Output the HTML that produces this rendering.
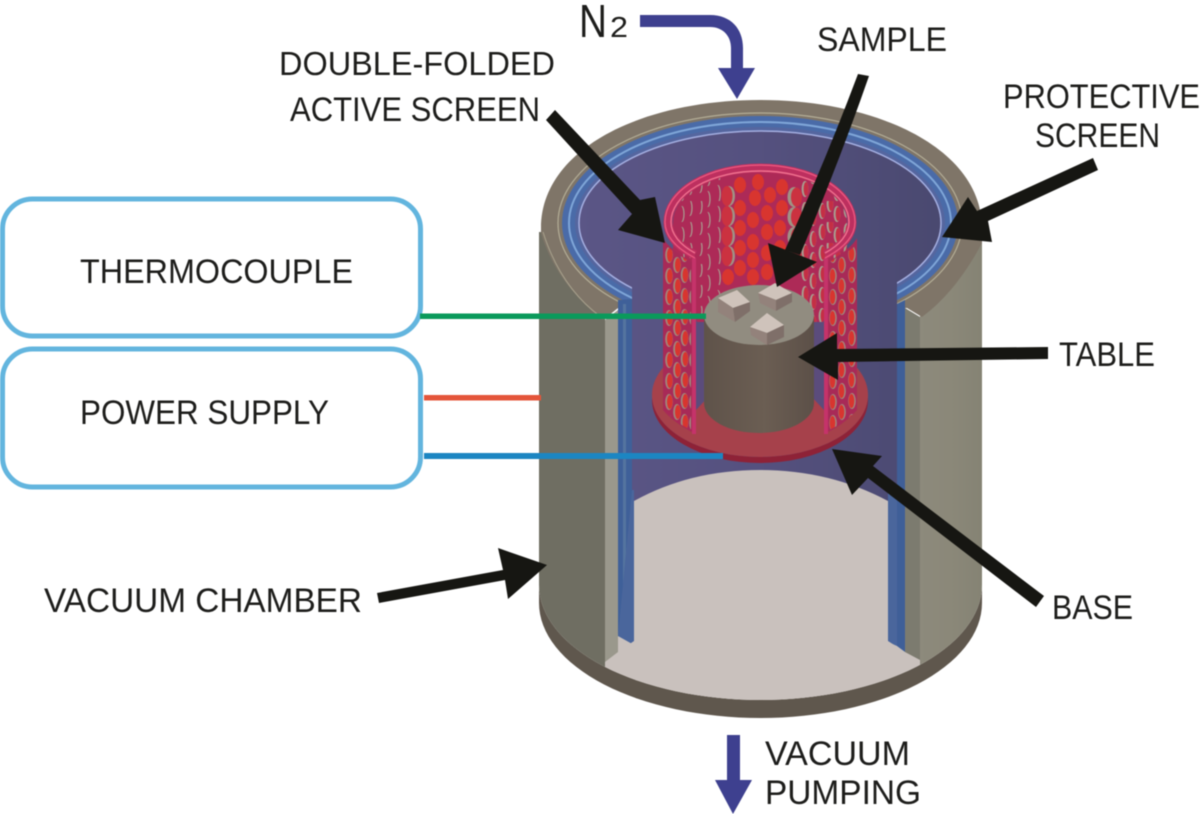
<!DOCTYPE html>
<html><head><meta charset="utf-8"><style>
html,body{margin:0;padding:0;background:#fff}
svg{display:block;filter:blur(.4px)}
text{font-family:"Liberation Sans",sans-serif;fill:#1d1d1b}
</style></head><body>
<svg width="1200" height="814" viewBox="0 0 1200 814" xmlns="http://www.w3.org/2000/svg">
<defs>
<linearGradient id="wr" x1="0" x2="1" y1="0" y2="0"><stop offset="0" stop-color="#8d8a7c"/><stop offset=".5" stop-color="#8b8879"/><stop offset="1" stop-color="#858374"/></linearGradient>
<linearGradient id="pu" gradientUnits="userSpaceOnUse" x1="580" x2="940" y1="0" y2="0"><stop offset="0" stop-color="#5b5686"/><stop offset=".5" stop-color="#55517f"/><stop offset="1" stop-color="#4a4970"/></linearGradient>
<linearGradient id="tb" x1="0" x2="1" y1="0" y2="0"><stop offset="0" stop-color="#5f534a"/><stop offset=".55" stop-color="#6b5e53"/><stop offset="1" stop-color="#5c5048"/></linearGradient>
<clipPath id="cb"><rect x="539" y="232" width="443" height="353"/><ellipse cx="760.500" cy="585" rx="221.500" ry="115"/></clipPath>
<pattern id="pl" width="24" height="21" patternUnits="userSpaceOnUse" x="665" y="246">
<g fill="#a0877c"><ellipse cx="4" cy="9" rx="3.800" ry="8"/><ellipse cx="12" cy="19" rx="3.800" ry="8"/><ellipse cx="12" cy="-2" rx="3.800" ry="8"/><ellipse cx="19.500" cy="8" rx="3.800" ry="8"/></g>
<g fill="#d8352f"><ellipse cx="4.800" cy="9" rx="2.800" ry="7"/><ellipse cx="12.800" cy="19" rx="2.800" ry="7"/><ellipse cx="12.800" cy="-2" rx="2.800" ry="7"/><ellipse cx="20.300" cy="8" rx="2.800" ry="7"/></g>
</pattern>
<pattern id="pr" width="30" height="21" patternUnits="userSpaceOnUse" x="829" y="246">
<g fill="#a0877c"><ellipse cx="4" cy="9" rx="3.800" ry="8"/><ellipse cx="13" cy="19" rx="3.800" ry="8"/><ellipse cx="13" cy="-2" rx="3.800" ry="8"/><ellipse cx="23" cy="8" rx="3.800" ry="8"/></g>
<g fill="#d8352f"><ellipse cx="3.500" cy="9" rx="2.800" ry="7"/><ellipse cx="12.500" cy="19" rx="2.800" ry="7"/><ellipse cx="12.500" cy="-2" rx="2.800" ry="7"/><ellipse cx="22.500" cy="8" rx="2.800" ry="7"/></g>
</pattern>
<pattern id="pi" width="48" height="21" patternUnits="userSpaceOnUse" x="676" y="180">
<g fill="#a89e90"><ellipse cx="6" cy="13" rx="2.600" ry="8"/><ellipse cx="14" cy="7" rx="2.600" ry="8"/><ellipse cx="24" cy="5" rx="2.600" ry="8"/><ellipse cx="32" cy="19" rx="2.600" ry="8"/><ellipse cx="32" cy="-2" rx="2.600" ry="8"/><ellipse cx="42" cy="14" rx="2.800" ry="9"/></g>
<g fill="#ad2a57"><ellipse cx="4.800" cy="13" rx="2.600" ry="8"/><ellipse cx="12.800" cy="7" rx="2.600" ry="8"/><ellipse cx="22.800" cy="5" rx="2.600" ry="8"/><ellipse cx="30.800" cy="19" rx="2.600" ry="8"/><ellipse cx="30.800" cy="-2" rx="2.600" ry="8"/><ellipse cx="40.800" cy="14" rx="2.800" ry="9"/></g>
</pattern>
<pattern id="pj" width="42" height="21" patternUnits="userSpaceOnUse" x="800" y="180">
<g fill="#a89e90"><ellipse cx="5" cy="9" rx="3.400" ry="8"/><ellipse cx="13" cy="17" rx="3.400" ry="8"/><ellipse cx="13" cy="-4" rx="3.400" ry="8"/><ellipse cx="22" cy="10" rx="3.400" ry="8"/><ellipse cx="30" cy="3" rx="3.400" ry="8"/><ellipse cx="37" cy="13" rx="3.400" ry="8"/></g>
<g fill="#c42f45"><ellipse cx="6" cy="9" rx="2.400" ry="7"/><ellipse cx="14" cy="17" rx="2.400" ry="7"/><ellipse cx="14" cy="-4" rx="2.400" ry="7"/><ellipse cx="23" cy="10" rx="2.400" ry="7"/><ellipse cx="31" cy="3" rx="2.400" ry="7"/><ellipse cx="38" cy="13" rx="2.400" ry="7"/></g>
</pattern>
<clipPath id="ci"><path d="M673 222A87 50 0 0 1 847 222L847 265L823 322H697L673 265Z"/></clipPath>
<g id="cL"><ellipse cx="0" cy="0" rx="6" ry="10" fill="#a09284"/><ellipse cx="-2" cy="0" rx="5.500" ry="10" fill="#cb3240"/></g>
<g id="cR"><ellipse cx="0" cy="0" rx="6.500" ry="10" fill="#a09284"/><ellipse cx="2.500" cy="0" rx="5.500" ry="9.500" fill="#cb3240"/></g>
</defs>

<!-- boxes -->
<rect x="2.500" y="199" width="418" height="137" rx="30" fill="#fff" stroke="#63b5de" stroke-width="5"/>
<rect x="2.500" y="349" width="418" height="138" rx="30" fill="#fff" stroke="#63b5de" stroke-width="5"/>

<!-- chamber body -->
<path d="M539 585A221.500 115 0 0 0 982 585L982 603A221.500 115 0 0 1 539 603Z" fill="#5f574d"/>
<g clip-path="url(#cb)">
<rect x="539" y="232" width="66" height="483" fill="#6f6e62"/>
<rect x="605" y="400" width="316" height="320" fill="#c9c1bd"/>
<rect x="920" y="232" width="62" height="483" fill="url(#wr)"/>
</g>
<!-- rim -->
<path d="M541 228C541 150 640 100 760 100C880 100 982 150 982 228L982 243C965 275 945 300 922 317L907 308H618L603 320C575 298 552 270 541 233Z" fill="#7f7568"/>
<path d="M543 232C555 270 575 298 601 317" fill="none" stroke="#a8a28d" stroke-width="1"/>
<ellipse cx="760" cy="223" rx="202" ry="110" fill="none" stroke="#b3ad96" stroke-width="1.200"/>
<ellipse cx="760" cy="223" rx="198" ry="107" fill="#4a6ba8"/>
<ellipse cx="760" cy="223" rx="191" ry="101" fill="none" stroke="#7fa6d8" stroke-width="2"/>
<ellipse cx="760" cy="223" rx="185" ry="96" fill="#55669f"/>
<ellipse cx="760" cy="223" rx="181" ry="92" fill="url(#pu)" stroke="#a4aee0" stroke-width="1.500"/>
<!-- back interior -->
<rect x="632" y="225" width="265" height="285" fill="url(#pu)"/>
<!-- wall faces -->
<polygon points="605,320 618,310 618,652 605,662" fill="#9a988c"/>
<polygon points="618,300 632,299 632,640 618,636" fill="#3f6099"/>
<rect x="623" y="304" width="3" height="330" fill="#54749f"/>
<polygon points="905,308 920,317 920,660 905,652" fill="#7c7b6f"/>
<polygon points="897,304 905,300 905,652 897,646" fill="#3f5f98"/>
<!-- floor arch -->
<path d="M632 490H634V645L618 636ZM888 490H897V646L888 642Z" fill="#4a669c"/>
<path d="M634 501Q690 470 760 470Q830 470 888 501V641L905 652H618L634 641Z" fill="#c9c1bd"/>

<!-- base -->
<path d="M652 395A108 62 0 0 0 868 395V400A108 63 0 0 1 652 400Z" fill="#8e2237"/>
<ellipse cx="760" cy="395" rx="108" ry="62" fill="#a6414b"/>
<path d="M696 300H824V410L810 395H710L696 410Z" fill="#5b4c7c"/>

<!-- inner wall -->
<g clip-path="url(#ci)">
<rect x="670" y="165" width="180" height="170" fill="#ad2a57"/>
<rect x="676" y="165" width="48" height="170" fill="url(#pi)"/>
<rect x="800" y="165" width="48" height="170" fill="url(#pj)"/>
<g fill="#d8352f">
<ellipse cx="740" cy="185" rx="6" ry="8"/><ellipse cx="758" cy="182" rx="6" ry="8"/><ellipse cx="782" cy="187" rx="6" ry="8"/>
<ellipse cx="755" cy="198" rx="6" ry="8"/><ellipse cx="770" cy="195" rx="6" ry="8"/><ellipse cx="782" cy="208" rx="6" ry="8"/>
<ellipse cx="740" cy="208" rx="6" ry="8"/><ellipse cx="753" cy="220" rx="6" ry="8"/><ellipse cx="767" cy="213" rx="6" ry="8"/>
<ellipse cx="740" cy="228" rx="6" ry="8"/><ellipse cx="753" cy="242" rx="6" ry="8"/><ellipse cx="767" cy="232" rx="6" ry="8"/>
<ellipse cx="780" cy="228" rx="6" ry="8"/><ellipse cx="740" cy="248" rx="6" ry="8"/><ellipse cx="753" cy="260" rx="6" ry="8"/>
<ellipse cx="767" cy="253" rx="6" ry="8"/><ellipse cx="780" cy="248" rx="6" ry="8"/><ellipse cx="740" cy="268" rx="6" ry="8"/>
<ellipse cx="753" cy="277" rx="6" ry="8"/><ellipse cx="767" cy="272" rx="6" ry="8"/><ellipse cx="728" cy="277" rx="6" ry="8"/>
<ellipse cx="780" cy="268" rx="6" ry="8"/>
</g>
<use href="#cL" x="729" y="196"/><use href="#cL" x="729" y="216"/><use href="#cL" x="729" y="236"/><use href="#cL" x="729" y="256"/>
<use href="#cR" x="794" y="197"/><use href="#cR" x="794" y="217"/><use href="#cR" x="794" y="237"/><use href="#cR" x="794" y="258"/>
</g>

<!-- outer panels -->
<path d="M663 238C668 247 680 255 692 262L692 432C680 426 670 418 663 410Z" fill="#a82a57"/>
<path d="M665 244C670 250 680 256 691 262L691 430C680 425 672 418 665 410Z" fill="url(#pl)"/>
<rect x="692" y="258" width="4" height="176" fill="#c5336a"/>
<path d="M857 238C852 247 840 255 828 262L828 432C840 426 850 418 857 410Z" fill="#a82a57"/>
<path d="M857 244C852 250 840 256 829 262L829 430C840 425 850 418 857 410Z" fill="url(#pr)"/>
<rect x="824" y="258" width="4" height="176" fill="#c5336a"/>

<!-- screen rim -->
<path d="M695 255C678 247 668 235 668 222A92 54 0 0 1 852 222C852 235 842 247 825 255" fill="none" stroke="#bd2f5f" stroke-width="9"/>
<path d="M695 258C676 248 665 236 665 222A95 57 0 0 1 855 222C855 236 844 248 825 258" fill="none" stroke="#e9577f" stroke-width="1.400"/>
<path d="M695 253C680 245 671 234 671 222A89 51 0 0 1 849 222C849 234 840 245 825 253" fill="none" stroke="#f0728f" stroke-width="1.400"/>

<!-- table -->
<path d="M704 315V403A55 30 0 0 0 814 403V315Z" fill="url(#tb)"/>
<ellipse cx="759" cy="315" rx="55" ry="30" fill="#918c80"/>
<!-- cubes -->
<polygon points="718,298 737,290 750,302 733,308" fill="#cfc3bb"/><polygon points="718,298 733,308 735,322 718,312" fill="#93827b"/><polygon points="733,308 750,302 750,311 735,322" fill="#7f6f69"/>
<polygon points="758,293 775,283 792,293 776,300" fill="#cfc3bb"/><polygon points="758,293 776,300 776,311 760,303" fill="#93827b"/><polygon points="776,300 792,293 792,302 776,311" fill="#7f6f69"/>
<polygon points="750,327 767,313 784,325 767,333" fill="#cfc3bb"/><polygon points="750,327 767,333 767,345 751,335" fill="#93827b"/><polygon points="767,333 784,325 784,337 767,345" fill="#7f6f69"/>

<!-- connector wires -->
<rect x="420" y="313.500" width="286" height="5.500" fill="#0a9a5b"/>
<rect x="424" y="395" width="117" height="5.500" fill="#e4553a"/>
<rect x="424" y="453" width="299" height="6" fill="#1c86c2"/>

<!-- black arrows -->
<g fill="#161612">
<polygon points="546,120 555,110 640,200 655,197 665,243 618,230 632,214"/>
<path d="M858 74L869 76Q838 165 800 255L785 250Q825 162 858 74Z"/>
<polygon points="768,243 817,262 777,287"/>
<polygon points="1093,158 1098,170 988,221 992,242 942,237 968,197 977,211"/>
<polygon points="1048,347 1048,359 838,362 838,380 798,357 837,333 837,349"/>
<polygon points="1044,596 1036,607 868,478 852,495 832,449 882,456 873,466"/>
<polygon points="377,593 379,603 505,580 508,599 547,565 498,548 503,570"/>
</g>

<!-- blue arrows -->
<g fill="#3e408f">
<path d="M640 15H710C731 15 743 29 743 48V68H755L737 99L718 68H731V48C731 36 723 27 710 27H640Z"/>
<polygon points="727,735 740,735 740,780 752,780 733,814 715,780 727,780"/>
</g>

<!-- labels -->
<text x="579" y="37" font-size="46" textLength="28" lengthAdjust="spacingAndGlyphs">N</text>
<text x="610" y="37" font-size="29" textLength="18" lengthAdjust="spacingAndGlyphs">2</text>
<text x="279" y="75" font-size="33" textLength="276" lengthAdjust="spacingAndGlyphs">DOUBLE-FOLDED</text>
<text x="290" y="121" font-size="34" textLength="250" lengthAdjust="spacingAndGlyphs">ACTIVE SCREEN</text>
<text x="817" y="51" font-size="34" textLength="130" lengthAdjust="spacingAndGlyphs">SAMPLE</text>
<text x="1003" y="108" font-size="34" textLength="197" lengthAdjust="spacingAndGlyphs">PROTECTIVE</text>
<text x="1035" y="147" font-size="34" textLength="125" lengthAdjust="spacingAndGlyphs">SCREEN</text>
<text x="80" y="283" font-size="34" textLength="273" lengthAdjust="spacingAndGlyphs">THERMOCOUPLE</text>
<text x="80" y="424" font-size="34" textLength="249" lengthAdjust="spacingAndGlyphs">POWER SUPPLY</text>
<text x="1059" y="366" font-size="34" textLength="96" lengthAdjust="spacingAndGlyphs">TABLE</text>
<text x="1052" y="619" font-size="34" textLength="81" lengthAdjust="spacingAndGlyphs">BASE</text>
<text x="44" y="612" font-size="34" textLength="318" lengthAdjust="spacingAndGlyphs">VACUUM CHAMBER</text>
<text x="765" y="765" font-size="34" textLength="145" lengthAdjust="spacingAndGlyphs">VACUUM</text>
<text x="765" y="804" font-size="34" textLength="156" lengthAdjust="spacingAndGlyphs">PUMPING</text>
</svg>
</body></html>
